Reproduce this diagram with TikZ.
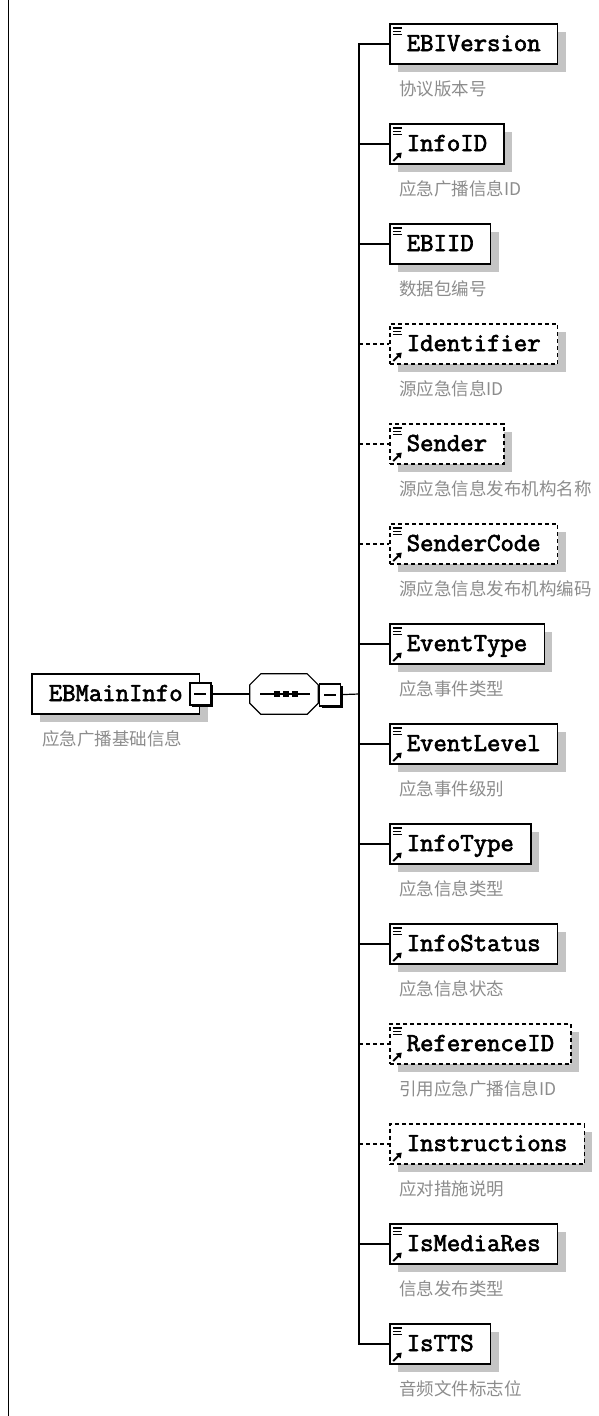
\documentclass[tikz,border=0pt]{standalone}
\usepackage{fontspec}
\newfontfamily\elemfont[AutoFakeBold=2.5, BoldFeatures={FakeBold=1.6}]{Latin Modern Mono}
\newfontfamily\cjk{Noto Sans CJK SC}
\usetikzlibrary{positioning,shadows,arrows.meta}

\definecolor{shadowgrey}{RGB}{196,196,196}
\definecolor{descgrey}{RGB}{140,140,140}

\tikzset{
  box/.style={draw, line width=1.5pt, fill=white, anchor=west,
    minimum height=40pt, inner xsep=17pt, inner ysep=0pt,
    text height=17pt, text depth=3pt,
    font=\elemfont\bfseries\fontsize{26}{28}\selectfont,
    general shadow={shadow xshift=8pt, shadow yshift=-8pt, fill=shadowgrey}},
  optbox/.style={box, dash pattern=on 4pt off 3pt},
  lines/.style={path picture={
      \draw[solid, line width=1.2pt]
        ([shift={(3.5pt,-4pt)}]path picture bounding box.north west) -- ++(9pt,0pt)
        ++(-9pt,-3.2pt) -- ++(8pt,0pt) ++(-8pt,-3.2pt) -- ++(9pt,0pt);}},
  linesref/.style={path picture={
      \draw[solid, line width=1.2pt]
        ([shift={(3.5pt,-4pt)}]path picture bounding box.north west) -- ++(9pt,0pt)
        ++(-9pt,-3.2pt) -- ++(8pt,0pt) ++(-8pt,-3.2pt) -- ++(9pt,0pt);
      \draw[solid, line width=1.8pt, -{Triangle[length=5pt,width=6.5pt]}]
        ([shift={(3.5pt,3pt)}]path picture bounding box.south west) -- ++(8.5pt,8.5pt);}},
  refonly/.style={path picture={
      \draw[solid, line width=1.8pt, -{Triangle[length=5pt,width=6.5pt]}]
        ([shift={(3.5pt,3pt)}]path picture bounding box.south west) -- ++(8.5pt,8.5pt);}},
  desc/.style={anchor=west, inner sep=0pt, text=descgrey,
    font=\cjk\fontsize{17.5}{19}\selectfont},
  minusbox/.style={draw, fill=white, line width=1.2pt, minimum width=21pt, minimum height=22pt, inner sep=0pt,
    general shadow={shadow xshift=2pt, shadow yshift=-2pt, fill=black},
    path picture={\draw[line width=1.1pt] ([xshift=-6pt]path picture bounding box.center) -- ++(12pt,0pt);}},
  seqbox/.style={draw=none, minimum width=68pt, minimum height=40pt, inner sep=0pt},
  octagon/.style={draw, fill=white, line width=1.2pt},
  conn/.style={line width=1.2pt},
  optconn/.style={conn, dash pattern=on 4pt off 3pt}
}

\begin{document}
\begin{tikzpicture}[x=1pt, y=-1pt]
  \useasboundingbox (0,0) rectangle (598,1416);

  % page edge
  \draw[line width=1pt] (8,0) -- (8,1416);

  % Define the root element and the sequence
  \node[box] (ebmaininfo) at (31,694) {EBMainInfo\hspace{9pt}};
  \node[desc] (ebmaininfo-d) at ([shift={(11pt,-45pt)}]ebmaininfo.west) {应急广播基础信息};
  \node[minusbox] (rootminus) at (ebmaininfo.east) {};
  \node[seqbox] (seq) at (284,694) {};
  \filldraw[octagon, fill=shadowgrey, draw=none, shift={(8pt,-8pt)}]
    ([xshift=11pt]seq.north west) -- ([xshift=-11pt]seq.north east) -- ([yshift=-11pt]seq.north east)
    -- ([yshift=11pt]seq.south east) -- ([xshift=-11pt]seq.south east) -- ([xshift=11pt]seq.south west)
    -- ([yshift=11pt]seq.south west) -- ([yshift=-11pt]seq.north west) -- cycle;
  \filldraw[octagon]
    ([xshift=11pt]seq.north west) -- ([xshift=-11pt]seq.north east) -- ([yshift=-11pt]seq.north east)
    -- ([yshift=11pt]seq.south east) -- ([xshift=-11pt]seq.south east) -- ([xshift=11pt]seq.south west)
    -- ([yshift=11pt]seq.south west) -- ([yshift=-11pt]seq.north west) -- cycle;
  \draw[line width=1.1pt] ([xshift=-24pt]seq.center) -- ([xshift=26pt]seq.center);
  \fill ([shift={(-10pt,-3pt)}]seq.center) rectangle ++(6pt,6pt);
  \fill ([shift={(-1pt,-3pt)}]seq.center) rectangle ++(6pt,6pt);
  \fill ([shift={(8pt,-3pt)}]seq.center) rectangle ++(6pt,6pt);
  \node[minusbox] (seqminus) at (330,695) {};
  \coordinate (trunk) at (359,694);

  % Define the child elements
  \node[box, lines] (ebiversion) at (389,44) {EBIVersion};
  \node[desc] (ebiversion-d) at ([shift={(10pt,-45pt)}]ebiversion.west) {协议版本号};
  \node[box, linesref] (infoid) at (389,144) {InfoID};
  \node[desc] (infoid-d) at ([shift={(10pt,-45pt)}]infoid.west) {应急广播信息ID};
  \node[box, lines] (ebiid) at (389,244) {EBIID};
  \node[desc] (ebiid-d) at ([shift={(10pt,-45pt)}]ebiid.west) {数据包编号};
  \node[optbox, linesref] (identifier) at (389,344) {Identifier};
  \node[desc] (identifier-d) at ([shift={(10pt,-45pt)}]identifier.west) {源应急信息ID};
  \node[optbox, linesref] (sender) at (389,444) {Sender};
  \node[desc] (sender-d) at ([shift={(10pt,-45pt)}]sender.west) {源应急信息发布机构名称};
  \node[optbox, linesref] (sendercode) at (389,544) {SenderCode};
  \node[desc] (sendercode-d) at ([shift={(10pt,-45pt)}]sendercode.west) {源应急信息发布机构编码};
  \node[box, linesref] (eventtype) at (389,644) {EventType};
  \node[desc] (eventtype-d) at ([shift={(10pt,-45pt)}]eventtype.west) {应急事件类型};
  \node[box, linesref] (eventlevel) at (389,744) {EventLevel};
  \node[desc] (eventlevel-d) at ([shift={(10pt,-45pt)}]eventlevel.west) {应急事件级别};
  \node[box, linesref] (infotype) at (389,844) {InfoType};
  \node[desc] (infotype-d) at ([shift={(10pt,-45pt)}]infotype.west) {应急信息类型};
  \node[box, linesref] (infostatus) at (389,944) {InfoStatus};
  \node[desc] (infostatus-d) at ([shift={(10pt,-45pt)}]infostatus.west) {应急信息状态};
  \node[optbox, linesref] (referenceid) at (389,1044) {ReferenceID};
  \node[desc] (referenceid-d) at ([shift={(10pt,-45pt)}]referenceid.west) {引用应急广播信息ID};
  \node[optbox, refonly] (instructions) at (389,1144) {Instructions};
  \node[desc] (instructions-d) at ([shift={(10pt,-45pt)}]instructions.west) {应对措施说明};
  \node[box, linesref] (ismediares) at (389,1244) {IsMediaRes};
  \node[desc] (ismediares-d) at ([shift={(10pt,-45pt)}]ismediares.west) {信息发布类型};
  \node[box, linesref] (istts) at (389,1344) {IsTTS};
  \node[desc] (istts-d) at ([shift={(10pt,-45pt)}]istts.west) {音频文件标志位};

  % Draw the connectors
  \draw[conn] (rootminus) -- (seq);
  \draw[conn] (seqminus) -- (trunk);
  \draw[conn] (ebiversion.west) -- (ebiversion.west -| trunk) -- (istts.west -| trunk) -- (istts.west);
  \draw[conn] (trunk |- infoid.west) -- (infoid.west);
  \draw[conn] (trunk |- ebiid.west) -- (ebiid.west);
  \draw[optconn] (trunk |- identifier.west) -- (identifier.west);
  \draw[optconn] (trunk |- sender.west) -- (sender.west);
  \draw[optconn] (trunk |- sendercode.west) -- (sendercode.west);
  \draw[conn] (trunk |- eventtype.west) -- (eventtype.west);
  \draw[conn] (trunk |- eventlevel.west) -- (eventlevel.west);
  \draw[conn] (trunk |- infotype.west) -- (infotype.west);
  \draw[conn] (trunk |- infostatus.west) -- (infostatus.west);
  \draw[optconn] (trunk |- referenceid.west) -- (referenceid.west);
  \draw[optconn] (trunk |- instructions.west) -- (instructions.west);
  \draw[conn] (trunk |- ismediares.west) -- (ismediares.west);
\end{tikzpicture}
\end{document}
